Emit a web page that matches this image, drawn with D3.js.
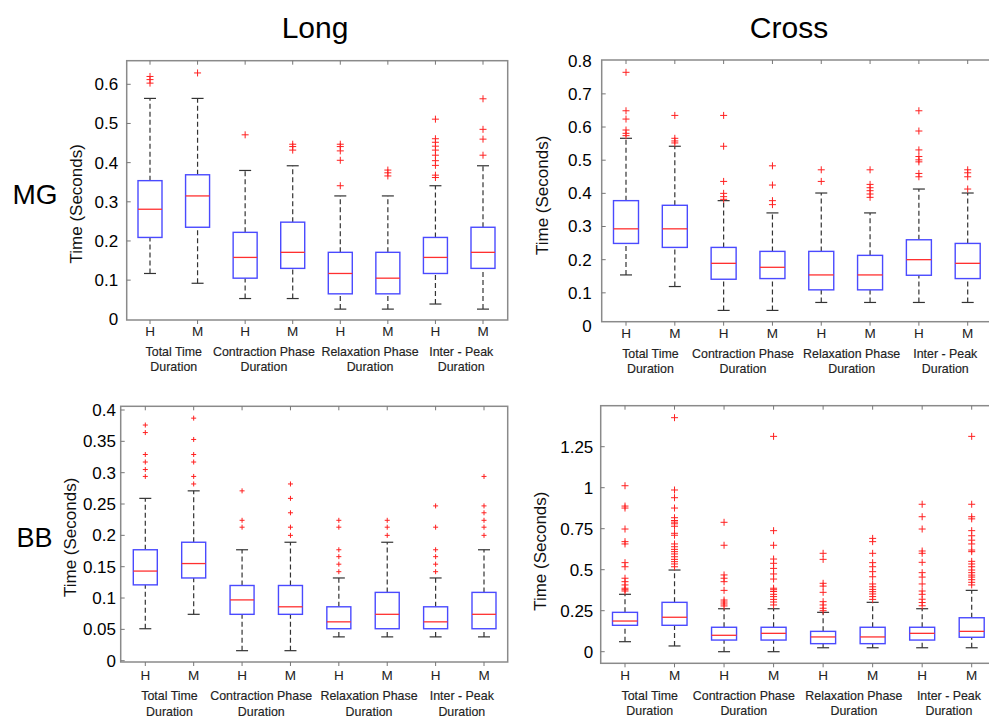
<!DOCTYPE html>
<html>
<head>
<meta charset="utf-8">
<script src="https://cdn.jsdelivr.net/npm/d3@7"></script>
<style>
  body { margin: 0; background: #fff; }
  svg { display: block; }
  text { font-family: Arial, "Liberation Sans", sans-serif; }
</style>
</head>
<body>
<svg id="chart" width="989" height="720"></svg>
<script>
// ---- Data ----------------------------------------------------------
const groups = ["H", "M"];
const categories = [
  ["Total Time", "Duration"],
  ["Contraction Phase", "Duration"],
  ["Relaxation Phase", "Duration"],
  ["Inter - Peak", "Duration"]
];
const columnTitles = ["Long", "Cross"];
const rowTitles = ["MG", "BB"];
const axisTitle = "Time (Seconds)";

// Box statistics per box, in order H, M for each category:
// [lower whisker, Q1, median, Q3, upper whisker]
const longMGStats = [
  [0.117, 0.209, 0.281, 0.354, 0.564], [0.092, 0.235, 0.315, 0.369, 0.564],
  [0.053, 0.105, 0.158, 0.222, 0.380], [0.053, 0.130, 0.171, 0.248, 0.392],
  [0.026, 0.065, 0.117, 0.171, 0.315], [0.026, 0.065, 0.105, 0.171, 0.315],
  [0.039, 0.117, 0.158, 0.209, 0.341], [0.026, 0.130, 0.171, 0.235, 0.392]
];
const longMGOutliers = [
  [0.620, 0.612, 0.603], [0.629],
  [0.471], [0.447, 0.441, 0.432],
  [0.447, 0.441, 0.430, 0.406, 0.341], [0.381, 0.374, 0.366],
  [0.511, 0.461, 0.452, 0.442, 0.432, 0.419, 0.405, 0.393, 0.368, 0.362], [0.563, 0.485, 0.460, 0.419]
];
const longMGTicks = [0, 0.1, 0.2, 0.3, 0.4, 0.5, 0.6];

const crossMGStats = [
  [0.154, 0.249, 0.293, 0.378, 0.566], [0.119, 0.237, 0.293, 0.364, 0.542],
  [0.047, 0.141, 0.189, 0.237, 0.378], [0.047, 0.143, 0.177, 0.225, 0.341],
  [0.071, 0.109, 0.154, 0.225, 0.401], [0.071, 0.109, 0.154, 0.213, 0.341],
  [0.071, 0.153, 0.200, 0.260, 0.413], [0.071, 0.143, 0.189, 0.249, 0.401]
];
const crossMGOutliers = [
  [0.765, 0.649, 0.624, 0.591, 0.581, 0.574], [0.635, 0.566, 0.558, 0.552],
  [0.635, 0.542, 0.436, 0.400, 0.390, 0.382], [0.483, 0.425, 0.378, 0.366],
  [0.471, 0.436], [0.471, 0.427, 0.417, 0.408, 0.398, 0.388],
  [0.649, 0.588, 0.531, 0.511, 0.501, 0.495, 0.460, 0.450], [0.471, 0.462, 0.450, 0.413]
];
const crossMGTicks = [0, 0.1, 0.2, 0.3, 0.4, 0.5, 0.6, 0.7, 0.8];

const longBBStats = [
  [0.051, 0.121, 0.143, 0.177, 0.259], [0.074, 0.132, 0.155, 0.189, 0.271],
  [0.016, 0.074, 0.097, 0.120, 0.177], [0.016, 0.074, 0.086, 0.120, 0.189],
  [0.038, 0.051, 0.062, 0.086, 0.132], [0.038, 0.051, 0.074, 0.109, 0.189],
  [0.038, 0.051, 0.062, 0.086, 0.132], [0.038, 0.051, 0.074, 0.109, 0.177]
];
const longBBOutliers = [
  [0.376, 0.364, 0.329, 0.317, 0.305, 0.294], [0.387, 0.353, 0.329, 0.317, 0.294, 0.282],
  [0.271, 0.224, 0.213], [0.282, 0.259, 0.236, 0.213, 0.200],
  [0.224, 0.213, 0.177, 0.166, 0.154, 0.142], [0.224, 0.213, 0.200],
  [0.247, 0.213, 0.177, 0.166, 0.154, 0.142], [0.294, 0.247, 0.236, 0.224, 0.213, 0.200]
];
const longBBTicks = [0, 0.05, 0.1, 0.15, 0.2, 0.25, 0.3, 0.35, 0.4];

const crossBBStats = [
  [0.061, 0.161, 0.187, 0.240, 0.350], [0.035, 0.161, 0.210, 0.301, 0.498],
  [0.000, 0.071, 0.100, 0.149, 0.262], [0.000, 0.071, 0.112, 0.149, 0.262],
  [0.024, 0.049, 0.090, 0.124, 0.240], [0.024, 0.049, 0.090, 0.149, 0.301],
  [0.024, 0.071, 0.112, 0.149, 0.262], [0.024, 0.088, 0.124, 0.207, 0.374]
];
const crossBBOutliers = [
  [1.012, 0.888, 0.876, 0.748, 0.671, 0.657, 0.543, 0.518, 0.448, 0.427, 0.407, 0.387, 0.378, 0.370],
  [1.427, 0.986, 0.939, 0.876, 0.817, 0.800, 0.790, 0.780, 0.765, 0.722, 0.710, 0.657, 0.640, 0.624, 0.610, 0.596, 0.579, 0.563, 0.549, 0.535, 0.518],
  [0.789, 0.649, 0.468, 0.448, 0.427, 0.374, 0.315, 0.303, 0.291, 0.279],
  [1.313, 0.738, 0.649, 0.565, 0.539, 0.508, 0.474, 0.443, 0.387, 0.378, 0.367, 0.350, 0.336, 0.319, 0.303, 0.285],
  [0.600, 0.563, 0.417, 0.400, 0.362, 0.305, 0.285, 0.265, 0.250],
  [0.691, 0.671, 0.600, 0.543, 0.518, 0.488, 0.457, 0.413, 0.396, 0.380, 0.366, 0.352, 0.336, 0.319],
  [0.899, 0.823, 0.748, 0.614, 0.600, 0.545, 0.482, 0.455, 0.413, 0.370, 0.350, 0.320, 0.300, 0.280],
  [1.313, 0.899, 0.823, 0.810, 0.738, 0.707, 0.680, 0.657, 0.620, 0.610, 0.551, 0.535, 0.518, 0.498, 0.482, 0.467, 0.455, 0.439, 0.423, 0.407]
];
const crossBBTicks = [0, 0.25, 0.5, 0.75, 1, 1.25];

// ---- Layout ----------------------------------------------------------
const panels = [
  { stats: longMGStats, outliers: longMGOutliers, ticks: longMGTicks,
    frame: { l: 126.7, r: 507.7, t: 60.7, b: 320 }, yDomain: [0, 0.6], yRange: [319.3, 84.3],
    xRange: [150, 483], boxW: 24, labelGap: 8.5, titleDx: -50, hmDy: 11.7, catDy: [32, 46.7], plus: 3.5 },
  { stats: crossMGStats, outliers: crossMGOutliers, ticks: crossMGTicks,
    frame: { l: 601.7, r: 995, t: 60, b: 321.7 }, yDomain: [0, 0.8], yRange: [326, 60.7],
    xRange: [626, 967.7], boxW: 25, labelGap: 10, titleDx: -59, hmDy: 11.6, catDy: [32.3, 47.3], plus: 3.5 },
  { stats: longBBStats, outliers: longBBOutliers, ticks: longBBTicks,
    frame: { l: 120.7, r: 507.7, t: 406.3, b: 662 }, yDomain: [0, 0.4], yRange: [660.7, 410],
    xRange: [145.3, 484], boxW: 24, labelGap: 4.7, titleDx: -50.7, hmDy: 13, catDy: [34, 50.3], plus: 2.5 },
  { stats: crossBBStats, outliers: crossBBOutliers, ticks: crossBBTicks,
    frame: { l: 600.7, r: 995, t: 405.7, b: 663.3 }, yDomain: [0, 1.25], yRange: [651.7, 446.7],
    xRange: [625, 971.7], boxW: 25, labelGap: 7.4, titleDx: -60.7, hmDy: 11.7, catDy: [32.7, 47.7], plus: 3.5 }
];
// small horizontal nudges of the two-line category captions
const captionShift = [0, -5, 6, 2];

const svg = d3.select("#chart");
const boxKeys = categories.flatMap((c, i) => groups.map(g => g + i));

panels.forEach(p => {
  const g = svg.append("g");
  const x = d3.scalePoint().domain(boxKeys).range(p.xRange);
  const y = d3.scaleLinear().domain(p.yDomain).range(p.yRange);
  const f = p.frame;

  // frame
  g.append("rect")
    .attr("x", f.l).attr("y", f.t)
    .attr("width", f.r - f.l).attr("height", f.b - f.t)
    .attr("fill", "none").attr("stroke", "#8a8a8a").attr("stroke-width", 1.5);

  // x tick marks on top (inward) and bottom (outward)
  g.selectAll(".xt").data(boxKeys).join("line")
    .attr("x1", d => x(d)).attr("x2", d => x(d))
    .attr("y1", f.t).attr("y2", f.t + 4)
    .attr("stroke", "#777").attr("stroke-width", 1);
  g.selectAll(".xb").data(boxKeys).join("line")
    .attr("x1", d => x(d)).attr("x2", d => x(d))
    .attr("y1", f.b).attr("y2", f.b + 4)
    .attr("stroke", "#777").attr("stroke-width", 1);

  // y axis labels
  const yAxis = d3.axisLeft(y).tickValues(p.ticks).tickFormat(d => String(d))
    .tickSizeInner(0).tickSizeOuter(0).tickPadding(0);
  const ax = g.append("g").attr("transform", `translate(${f.l - p.labelGap},0)`).call(yAxis);
  ax.select(".domain").remove();
  ax.selectAll("text").attr("font-size", 17).attr("fill", "#000")
    .attr("font-family", 'Arial, "Liberation Sans", sans-serif');

  // inward y ticks inside the frame
  const inner = p.ticks.filter(v => y(v) > f.t + 1 && y(v) < f.b - 1);
  g.selectAll(".yt").data(inner).join("line")
    .attr("x1", f.l).attr("x2", f.l + 4)
    .attr("y1", d => y(d)).attr("y2", d => y(d))
    .attr("stroke", "#777");

  // axis title
  g.append("text")
    .attr("transform", `translate(${f.l + p.titleDx},${(y(p.yDomain[0]) + y(p.ticks[p.ticks.length - 1])) / 2 + 2}) rotate(-90)`)
    .attr("text-anchor", "middle").attr("dominant-baseline", "central")
    .attr("font-size", 17).attr("fill", "#111")
    .text(axisTitle);

  // H / M labels
  g.selectAll(".hm").data(boxKeys).join("text")
    .attr("x", d => x(d)).attr("y", f.b + p.hmDy)
    .attr("text-anchor", "middle").attr("dominant-baseline", "central")
    .attr("font-size", 13.5).attr("fill", "#222")
    .text(d => d[0]);

  // category captions
  categories.forEach((lines, i) => {
    const cx = (x(groups[0] + i) + x(groups[1] + i)) / 2 + captionShift[i];
    lines.forEach((ln, j) => {
      g.append("text")
        .attr("x", cx).attr("y", f.b + p.catDy[j])
        .attr("text-anchor", "middle").attr("dominant-baseline", "central")
        .attr("font-size", 12.4).attr("fill", "#222")
        .attr("stroke", "#222").attr("stroke-width", 0.15)
        .text(ln);
    });
  });

  // boxes
  boxKeys.forEach((k, i) => {
    const [lo, q1, med, q3, hi] = p.stats[i];
    const cx = x(k);
    const hw = p.boxW / 2;
    const capW = 6;
    const b = g.append("g");
    // whiskers
    [[q3, hi], [lo, q1]].forEach(([a, c]) => {
      b.append("line").attr("x1", cx).attr("x2", cx)
        .attr("y1", y(a)).attr("y2", y(c))
        .attr("stroke", "#333").attr("stroke-width", 1.2)
        .attr("stroke-dasharray", "5,3");
    });
    [lo, hi].forEach(v => {
      b.append("line").attr("x1", cx - capW).attr("x2", cx + capW)
        .attr("y1", y(v)).attr("y2", y(v))
        .attr("stroke", "#333").attr("stroke-width", 1.2);
    });
    // box
    b.append("rect").attr("x", cx - hw).attr("y", y(q3))
      .attr("width", p.boxW).attr("height", y(q1) - y(q3))
      .attr("fill", "#fff").attr("stroke", "#4a4aff").attr("stroke-width", 1.4);
    // median
    b.append("line").attr("x1", cx - hw).attr("x2", cx + hw)
      .attr("y1", y(med)).attr("y2", y(med))
      .attr("stroke", "#ff3030").attr("stroke-width", 1.3);
    // outliers
    b.selectAll("path").data(p.outliers[i]).join("path")
      .attr("d", v => `M${cx - p.plus},${y(v)}H${cx + p.plus}M${cx},${y(v) - p.plus}V${y(v) + p.plus}`)
      .attr("stroke", "#ff2020").attr("stroke-width", 1).attr("fill", "none");
  });
});

// column and row titles
svg.selectAll(".ct").data(columnTitles).join("text")
  .attr("x", (d, i) => [315, 789][i]).attr("y", 37.5)
  .attr("text-anchor", "middle").attr("font-size", 30).attr("fill", "#000")
  .text(d => d);
svg.selectAll(".rt").data(rowTitles).join("text")
  .attr("x", (d, i) => [12.5, 16.5][i]).attr("y", (d, i) => [204, 546.5][i])
  .attr("font-size", (d, i) => [28, 27][i]).attr("fill", "#000")
  .text(d => d);
</script>
</body>
</html>
